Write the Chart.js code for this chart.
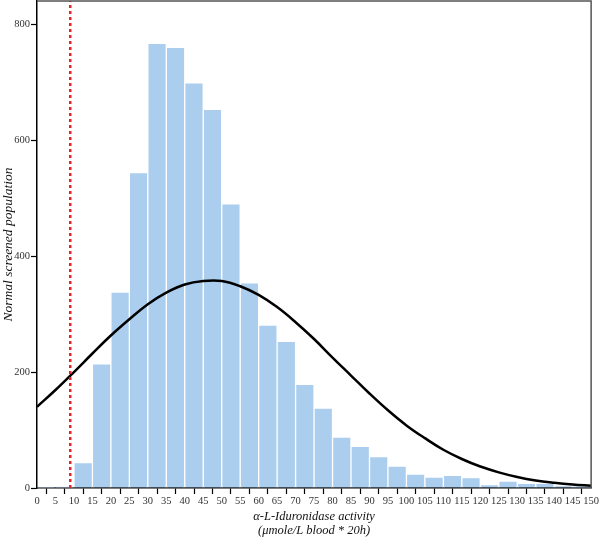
<!DOCTYPE html>
<html>
<head>
<meta charset="utf-8">
<script src="https://cdn.jsdelivr.net/npm/chart.js@4"></script>
<style>
html,body{margin:0;padding:0;background:#fff;}
#wrap{width:600px;height:538px;}
</style>
</head>
<body>
<div id="wrap"><canvas id="c" width="600" height="538"></canvas></div>
<script>
// Histogram bins (lower edge, width 5)
const binStarts = [0,5,10,15,20,25,30,35,40,45,50,55,60,65,70,75,80,85,90,95,100,105,110,115,120,125,130,135,140,145];
const binCounts = [1,2,44,214,338,544,767,760,699,653,490,354,281,253,179,138,88,72,54,38,24,19,22,18,6,12,8,8,4,3];
const binWidth = 5;

// Fitted curve
const curveX = [0,5,10,15,20,25,30,35,40,45,50,55,60,65,70,75,80,85,90,95,100,105,110,115,120,125,130,135,140,145,150];
const curveY = [140,169,200,232,263,291,317,337,351,357,357,348,333,312,286,257,225,194,163,134,108,86,66,50,37,27,19,13,9,6,4];

// Cut-off marker
const cutoff = 9;

const xTitle = ['\u03b1-L-Iduronidase activity', '(\u03bcmole/L blood * 20h)'];
const yTitle = 'Normal screened population';
const yTicks = [0,200,400,600,800];

const serif = '"Liberation Serif", "DejaVu Serif", serif';

const frame = {
  id: 'frame',
  afterDatasetsDraw(chart) {
    const {ctx, chartArea: a} = chart;
    ctx.save();
    ctx.strokeStyle = '#555';
    ctx.lineWidth = 1.5;
    ctx.beginPath();
    ctx.moveTo(a.left, a.top);
    ctx.lineTo(a.right, a.top);
    ctx.lineTo(a.right, a.bottom);
    ctx.stroke();
    ctx.restore();
  }
};

new Chart(document.getElementById('c'), {
  data: {
    datasets: [
      {
        type: 'bar',
        data: binStarts.map((s, i) => ({x: s + binWidth / 2, y: binCounts[i]})),
        backgroundColor: '#abcdee',
        borderColor: '#ffffff',
        borderWidth: 1,
        categoryPercentage: 1.0,
        barPercentage: 1.0,
        order: 3
      },
      {
        type: 'line',
        data: curveX.map((x, i) => ({x: x, y: curveY[i]})),
        borderColor: '#000',
        borderWidth: 2.5,
        pointRadius: 0,
        tension: 0.4,
        fill: false,
        order: 1
      },
      {
        type: 'line',
        data: [{x: cutoff, y: 0}, {x: cutoff, y: 840}],
        borderColor: '#e3242b',
        borderWidth: 2.5,
        borderDash: [3, 3],
        pointRadius: 0,
        fill: false,
        order: 0
      }
    ]
  },
  options: {
    responsive: false,
    animation: false,
    events: [],
    layout: {padding: {top: 1, right: 8, left: 0, bottom: 0}},
    plugins: {legend: {display: false}, tooltip: {enabled: false}},
    scales: {
      x: {
        type: 'linear',
        min: 0,
        max: 150,
        offset: false,
        afterFit(s) { s.height = 50; },
        ticks: {stepSize: 5, autoSkip: false, maxRotation: 0, padding: 1,
                color: '#333', font: {family: serif, size: 10.5}},
        grid: {display: true, drawOnChartArea: false, drawTicks: true, tickLength: 6, tickColor: '#000', tickWidth: 1.2},
        border: {display: true, color: '#000', width: 1.5},
        title: {display: true, text: xTitle, color: '#111', padding: {top: 2, bottom: 0},
                font: {family: serif, size: 12.5, style: 'italic', lineHeight: 1.15}}
      },
      y: {
        type: 'linear',
        min: 0,
        max: 840,
        afterFit(s) { s.width = 37; s.paddingTop = 0; },
        afterBuildTicks(s) { s.ticks = yTicks.map(v => ({value: v})); },
        ticks: {padding: 1, color: '#333', font: {family: serif, size: 10.5}},
        grid: {display: true, drawOnChartArea: false, drawTicks: true, tickLength: 6, tickColor: '#000', tickWidth: 1.2},
        border: {display: true, color: '#000', width: 1.5},
        title: {display: true, text: yTitle, color: '#111', padding: {top: 0, bottom: 0},
                font: {family: serif, size: 13.5, style: 'italic'}}
      }
    }
  },
  plugins: [frame]
});
</script>
</body>
</html>
